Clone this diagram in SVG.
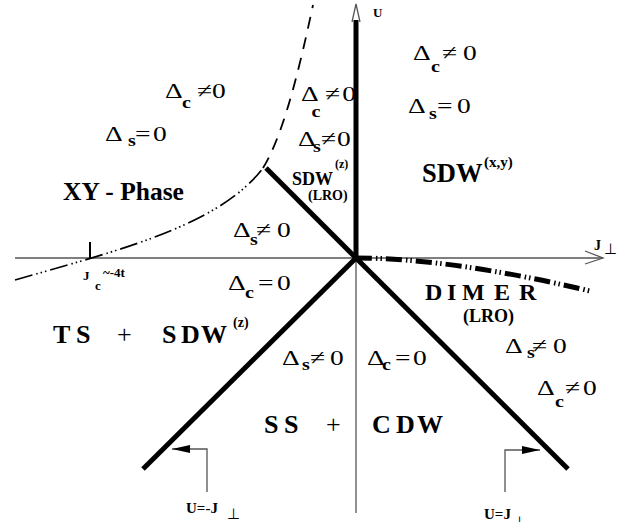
<svg xmlns="http://www.w3.org/2000/svg" width="625" height="522" viewBox="0 0 625 522">
<style>
text{font-family:"Liberation Serif","Times New Roman",serif;fill:#000}
.f{font-size:22px}
.sb{font-size:16px;font-weight:bold}
.b{font-weight:bold}
.thin{stroke:#555;stroke-width:1.3;fill:none}
.thick{stroke:#000;stroke-width:5;fill:none}
</style>
<defs>
<marker id="ah" markerWidth="18" markerHeight="8" refX="18" refY="4" orient="auto" markerUnits="userSpaceOnUse">
<path d="M0,0 L18,4 L0,8 Z" fill="#000"/>
</marker>
</defs>
<g id="connectors">
<line class="thin" x1="15" y1="258" x2="603" y2="258"/>
<path class="thin" d="M585,251 L603,258 L585,264"/>
<line class="thin" x1="356" y1="258" x2="356" y2="513"/>
<line class="thick" x1="356" y1="258" x2="356" y2="20"/>
<path class="thin" d="M352,22 L356,4 L360,22" stroke="#000"/>
<line class="thick" x1="266" y1="168" x2="356" y2="258"/>
<line class="thick" x1="356" y1="258" x2="143" y2="469"/>
<line class="thick" x1="356" y1="258" x2="568" y2="469"/>
<path d="M356,258 Q450,258 590,291" fill="none" stroke="#000" stroke-width="5" stroke-dasharray="16 4 1.5 3 1.5 4"/>
<path d="M15,280 C120,250 220,225 263,168" fill="none" stroke="#000" stroke-width="1.7" stroke-dasharray="18 4 1.5 3 1.5 3 1.5 4"/>
<path d="M263,168 C280,140 295,90 313,5" fill="none" stroke="#000" stroke-width="1.8" stroke-dasharray="12 9"/>
<line x1="90" y1="242" x2="90" y2="258" stroke="#000" stroke-width="2"/>
<path class="thin" d="M207,492 L207,449 L172,449" marker-end="url(#ah)"/>
<path class="thin" d="M505,492 L505,450 L540,450" marker-end="url(#ah)"/>
</g>
<g id="axis-labels">
<text class="b" x="373" y="17" font-size="13">U</text>
<text class="b" x="594" y="250" font-size="14">J</text>
<text x="604" y="254" font-size="15">⊥</text>
<text class="b" font-size="13"><tspan x="83" y="280">J</tspan><tspan x="95" y="290">c</tspan><tspan x="103" y="277">~-4t</tspan></text>
<text class="b" font-size="15" x="186" y="513">U=-J</text>
<text x="227" y="519" font-size="15">⊥</text>
<text class="b" font-size="15" x="484" y="519">U=J</text>
<text x="513" y="527" font-size="15">⊥</text>
</g>
<g id="formulas">
<text class="f" transform="translate(413,60) scale(1.25,1)"><tspan x="0" y="0">Δ</tspan><tspan class="sb" x="14.4" y="12">c</tspan><tspan x="23.2" y="0">≠</tspan><tspan x="40" y="0">0</tspan></text>
<text class="f" transform="translate(408,113) scale(1.25,1)"><tspan x="0" y="0">Δ</tspan><tspan class="sb" x="16.8" y="6">s</tspan><tspan x="23.2" y="0">=</tspan><tspan x="39.2" y="0">0</tspan></text>
<text class="f" transform="translate(165,98) scale(1.25,1)"><tspan x="0" y="0">Δ</tspan><tspan class="sb" x="13.6" y="10">c</tspan><tspan x="25.6" y="0">≠</tspan><tspan x="37.6" y="0">0</tspan></text>
<text class="f" transform="translate(105,141) scale(1.25,1)"><tspan x="0" y="0">Δ</tspan><tspan class="sb" x="18.4" y="5">s</tspan><tspan x="24" y="0">=</tspan><tspan x="38.4" y="0">0</tspan></text>
<text class="f" transform="translate(301,101) scale(1.25,1)"><tspan x="0" y="0">Δ</tspan><tspan class="sb" x="8.5" y="16">c</tspan><tspan x="19.2" y="0">≠</tspan><tspan x="33" y="0">0</tspan></text>
<text class="f" transform="translate(298,146) scale(1.25,1)"><tspan x="0" y="0">Δ</tspan><tspan class="sb" x="12" y="6">s</tspan><tspan x="18.4" y="0">≠</tspan><tspan x="31.2" y="0">0</tspan></text>
<text class="f" transform="translate(233,237) scale(1.25,1)"><tspan x="0" y="0">Δ</tspan><tspan class="sb" x="13.6" y="8">s</tspan><tspan x="18.4" y="0">≠</tspan><tspan x="35.2" y="0">0</tspan></text>
<text class="f" transform="translate(228,290) scale(1.25,1)"><tspan x="0" y="0">Δ</tspan><tspan class="sb" x="13.6" y="8">c</tspan><tspan x="24" y="0">=</tspan><tspan x="39.2" y="0">0</tspan></text>
<text class="f" transform="translate(282,365) scale(1.25,1)"><tspan x="0" y="0">Δ</tspan><tspan class="sb" x="16" y="5">s</tspan><tspan x="22.4" y="0">≠</tspan><tspan x="38.4" y="0">0</tspan></text>
<text class="f" transform="translate(367,365) scale(1.25,1)"><tspan x="0" y="0">Δ</tspan><tspan class="sb" x="12" y="5">c</tspan><tspan x="22.4" y="0">=</tspan><tspan x="36.8" y="0">0</tspan></text>
<text class="f" transform="translate(505,353) scale(1.25,1)"><tspan x="0" y="0">Δ</tspan><tspan class="sb" x="17.6" y="5">s</tspan><tspan x="21.6" y="0">≠</tspan><tspan x="38.4" y="0">0</tspan></text>
<text class="f" transform="translate(537,395) scale(1.25,1)"><tspan x="0" y="0">Δ</tspan><tspan class="sb" x="14.4" y="12">c</tspan><tspan x="22.4" y="0">≠</tspan><tspan x="36.8" y="0">0</tspan></text>
</g>
<g id="xy-phase"><text class="b" x="63" y="200" font-size="25.5">XY - Phase</text></g>
<g id="sdw-xy"><text class="b"><tspan x="422" y="182" font-size="26.5">SDW</tspan><tspan x="484" y="167" font-size="15">(x,y)</tspan></text></g>
<g id="sdw-z-lro"><text class="b"><tspan x="292" y="185" font-size="18">SDW</tspan><tspan x="335" y="168" font-size="12">(z)</tspan></text>
<text class="b" x="308" y="200" font-size="14">(LRO)</text></g>
<g id="ts-sdw"><text class="b" font-size="26"><tspan x="53" y="343">T</tspan><tspan x="76" y="343">S</tspan><tspan x="117" y="343" font-weight="normal">+</tspan><tspan x="162" y="343">S</tspan><tspan x="181" y="343">D</tspan><tspan x="201" y="343">W</tspan><tspan x="233" y="327" font-size="14">(z)</tspan></text></g>
<g id="ss-cdw"><text class="b" font-size="26"><tspan x="264" y="433">S</tspan><tspan x="284" y="433">S</tspan><tspan x="326" y="433" font-weight="normal">+</tspan><tspan x="372" y="433">C</tspan><tspan x="396" y="433">D</tspan><tspan x="417" y="433">W</tspan></text></g>
<g id="dimer"><text class="b" font-size="24"><tspan x="425" y="300">D</tspan><tspan x="447" y="300">I</tspan><tspan x="462" y="300">M</tspan><tspan x="494" y="300">E</tspan><tspan x="519" y="300">R</tspan></text>
<text class="b" x="463" y="322" font-size="18">(LRO)</text></g>
</svg>
